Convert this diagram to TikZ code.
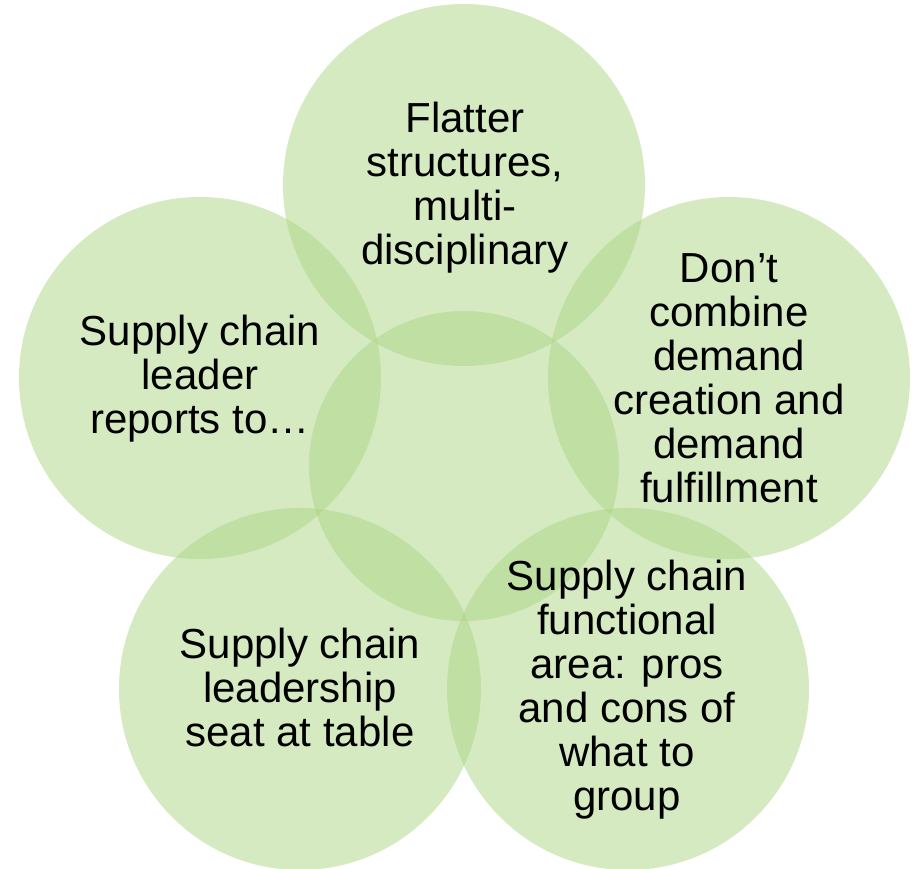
\documentclass[tikz,border=0pt]{standalone}
\usepackage{fontspec}
\setmainfont{Liberation Sans}
\definecolor{petal}{RGB}{171,213,131}
\begin{document}
\begin{tikzpicture}[x=1pt,y=-1pt,
  petalcircle/.style={fill=petal,fill opacity=0.5,draw=none},
  petaltext/.style={align=center,font=\fontsize{42}{44}\selectfont,text=black,inner sep=0pt}]
\useasboundingbox (0,0) rectangle (912,869);
\fill[petalcircle] (464,185) circle[radius=181];
\fill[petalcircle] (200,378) circle[radius=181];
\fill[petalcircle] (729,378) circle[radius=181];
\fill[petalcircle] (300,689) circle[radius=181];
\fill[petalcircle] (628,689) circle[radius=181];
\fill[petalcircle] (464,466) circle[radius=155];
\node[petaltext] (ttop) at (465,188) {Flatter\\structures,\\multi-\\disciplinary};
\node[petaltext] (tleft) at (200,379) {Supply chain\\leader\\reports to…};
\node[petaltext] (tright) at (729,378) {Don’t\\combine\\demand\\creation and\\demand\\fulfillment};
\node[petaltext] (tll) at (300,687) {Supply chain\\leadership\\seat at table};
\node[petaltext] (tlr) at (627,690) {Supply chain\\functional\\area: pros\\and cons of\\what to\\group};
\end{tikzpicture}
\end{document}
